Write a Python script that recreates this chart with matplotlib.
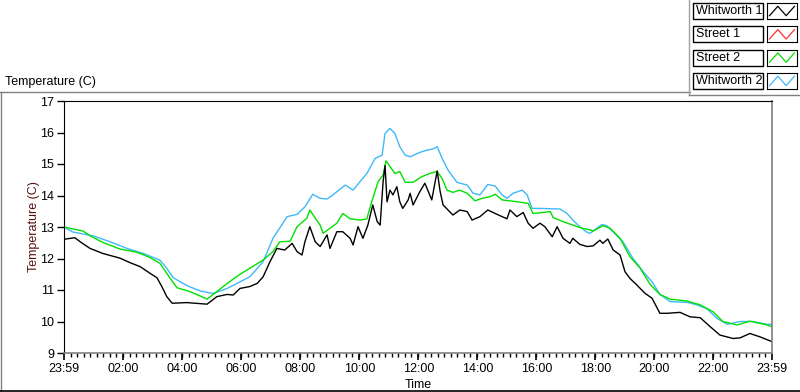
import numpy as np
import matplotlib
matplotlib.use('Agg')
import matplotlib.pyplot as plt
from matplotlib.lines import Line2D
from matplotlib.patches import Rectangle

plt.rcParams['font.family'] = ['Liberation Sans', 'DejaVu Sans']

# minutes after the 23:59 start, and temperatures (C)
whit1_t = [0, 22, 33, 53, 79, 114, 134, 155, 175, 189, 199, 209, 220, 250, 291, 311, 332, 344, 358,
           378, 393, 405, 419, 433, 449, 464, 474, 484, 490, 500, 511, 521, 535, 541, 555, 567, 582,
           588, 598, 608, 618, 628, 637, 643, 649, 653, 657, 663, 669, 677, 683, 689, 700,
           704, 710, 724, 734, 748, 759, 765, 771, 781, 791, 805, 820, 830, 846, 862, 881, 901, 907,
           921, 934, 944, 954, 968, 978, 993, 1003, 1015, 1029, 1035, 1049, 1064,
           1076, 1090, 1096, 1106, 1117, 1131, 1141, 1151, 1165, 1182, 1196, 1212, 1226, 1253, 1273,
           1294, 1314, 1334, 1361, 1375, 1395, 1416, 1440]
whit1_v = [12.61, 12.66, 12.53, 12.32, 12.16, 12.01, 11.87, 11.74, 11.53, 11.39, 11.11, 10.79, 10.58, 10.60, 10.55, 10.79, 10.86, 10.84, 11.05,
           11.11, 11.21, 11.42, 11.90, 12.32, 12.27, 12.48, 12.22, 12.11, 12.53, 13.01, 12.53, 12.38, 12.75, 12.32, 12.85, 12.85, 12.64,
           12.43, 13.01, 12.64, 13.06, 13.70, 13.17, 13.06, 14.44, 14.95, 13.80, 14.17, 14.02, 14.28, 13.80, 13.59, 13.86,
           14.07, 13.70, 14.13, 14.39, 13.86, 14.78, 14.13, 13.70, 13.54, 13.38, 13.54, 13.49, 13.22, 13.33, 13.54, 13.40, 13.26, 13.54,
           13.33, 13.46, 13.12, 12.96, 13.12, 13.01, 12.69, 13.01, 12.64, 12.48, 12.64, 12.45, 12.38,
           12.40, 12.58, 12.48, 12.62, 12.27, 12.11, 11.58, 11.37, 11.16, 10.89, 10.74, 10.26, 10.26, 10.29, 10.15,
           10.12, 9.84, 9.57, 9.46, 9.48, 9.62, 9.51, 9.36]

street1_t = []
street1_v = []

street2_t = [0, 39, 53, 79, 114, 148, 175, 195, 216, 230, 256, 277, 291, 311, 332, 358,
             378, 405, 425, 439, 460, 474, 494, 500, 511, 521, 527, 541, 555, 567, 582, 602, 616, 622, 628,
             639, 649, 655, 663, 673, 683, 694, 704,
             710, 728, 744, 759, 769, 779, 791, 805, 820, 836, 850, 866, 877, 891, 907, 927, 944, 954, 974,
             989, 995, 1015, 1035, 1054, 1070,
             1076, 1096, 1111, 1131, 1151, 1172, 1192, 1212, 1233, 1267, 1294, 1320, 1340, 1369, 1395, 1430, 1440]
street2_v = [13.0, 12.87, 12.72, 12.51, 12.30, 12.20, 12.03, 11.85, 11.37, 11.07, 10.95, 10.81, 10.71, 10.95, 11.21, 11.50,
             11.69, 11.95, 12.22, 12.53, 12.55, 13.01, 13.28, 13.54, 13.28, 13.06, 12.80, 12.96, 13.12, 13.43, 13.26, 13.22, 13.26, 13.59, 13.91,
             14.44, 14.65, 15.10, 14.92, 14.70, 14.76, 14.42, 14.42,
             14.42, 14.60, 14.70, 14.76, 14.54, 14.17, 14.10, 14.17, 14.07, 13.83, 13.91, 13.96, 14.04, 13.86, 13.83, 13.79, 13.75, 13.43, 13.46,
             13.49, 13.30, 13.17, 13.06, 12.96, 12.91,
             12.87, 13.04, 12.96, 12.64, 12.06, 11.69, 11.18, 10.86, 10.71, 10.65, 10.53, 10.31, 10.0, 9.89, 10.01, 9.89, 9.83]

whit2_t = [0, 18, 59, 94, 128, 161, 195, 209, 222, 250, 277, 303, 332, 358,
           378, 405, 425, 454, 474, 490, 506, 521, 535, 547, 572, 588, 602, 616, 633, 647, 653, 663, 673, 683, 694, 704,
           724, 738, 751, 759, 769, 781, 799, 820, 832, 846, 862, 877, 891, 901, 913, 932, 942, 952, 968, 1009, 1023, 1035, 1049, 1064,
           1070, 1094, 1104, 1117, 1137, 1157, 1178, 1196, 1212, 1233, 1267, 1287, 1308, 1328, 1349, 1375, 1401, 1430, 1440]
whit2_v = [13.0, 12.84, 12.72, 12.53, 12.32, 12.16, 11.95, 11.69, 11.39, 11.14, 10.97, 10.89, 11.05, 11.26,
           11.42, 11.90, 12.64, 13.33, 13.40, 13.64, 14.04, 13.91, 13.89, 14.02, 14.33, 14.17, 14.44, 14.70, 15.18, 15.28, 15.97, 16.13, 15.97, 15.55, 15.28, 15.23,
           15.37, 15.44, 15.48, 15.55, 15.18, 14.81, 14.42, 14.33, 14.07, 14.02, 14.35, 14.30, 14.02, 13.91, 14.07, 14.17, 14.02, 13.59, 13.59, 13.57, 13.43, 13.22, 13.01, 12.83,
           12.80, 13.08, 13.04, 12.84, 12.53, 12.01, 11.58, 11.26, 10.86, 10.63, 10.61, 10.53, 10.40, 10.10, 9.91, 10.0, 10.0, 9.91, 9.91]

names  = ['Whitworth 1', 'Street 1', 'Street 2', 'Whitworth 2']
colors = ['#000000', '#ff3030', '#00e000', '#40b8f8']

tick_pos    = [0, 121, 241, 361, 481, 601, 721, 841, 961, 1081, 1201, 1321, 1440]
tick_labels = ['23:59', '02:00', '04:00', '06:00', '08:00', '10:00', '12:00', '14:00',
               '16:00', '18:00', '20:00', '22:00', '23:59']

W, H = 800, 392
fig = plt.figure(figsize=(W/100, H/100), dpi=100)
fig.patch.set_facecolor('white')

def fx(px):
	return px / W

def fy(py):
	return 1 - py / H

# plot area
ax = fig.add_axes([fx(64), fy(353), fx(772) - fx(64), fy(101) - fy(353)])
series = [(whit1_t, whit1_v), (street1_t, street1_v), (street2_t, street2_v), (whit2_t, whit2_v)]
order = [1, 3, 2, 0]
for i in order :
	t, v = series[i]
	ax.plot(t, v, color=colors[i], lw=1.0)

ax.set_xlim(0, 1440)
ax.set_ylim(9, 17)
ax.set_yticks(range(9, 18))
ax.set_xticks(tick_pos)
ax.set_xticklabels(tick_labels)
ax.set_xticks(np.linspace(0, 1440, 109), minor=True)
ax.tick_params(axis='y', direction='out', length=5, width=1, labelsize=9, pad=2)
ax.tick_params(axis='x', which='major', direction='out', length=5, width=1.2, labelsize=9, pad=2)
ax.tick_params(axis='x', which='minor', direction='out', length=3, width=1)
for s in ['top', 'left'] :
	ax.spines[s].set_color('black')
for s in ['right', 'bottom'] :
	ax.spines[s].set_color('#808080')
	ax.spines[s].set_linewidth(1.2)
ax.set_ylabel('Temperature (C)', color='#5a1010', fontsize=9, labelpad=0)
ax.set_xlabel('Time', fontsize=9, labelpad=3)

# panel caption and frame
fig.text(fx(5), fy(82), 'Temperature (C)', fontsize=9, va='center', ha='left')
fig.add_artist(Line2D([0, fx(690)], [fy(92), fy(92)], color='#808080', lw=1))
fig.add_artist(Line2D([fx(0.5), fx(0.5)], [fy(92), fy(391)], color='#808080', lw=1))
fig.add_artist(Line2D([0, 1], [fy(391), fy(391)], color='black', lw=1.2))
fig.add_artist(Line2D([fx(689), fx(689)], [fy(0), fy(95)], color='#a0a0a0', lw=1))
fig.add_artist(Line2D([fx(689), 1], [fy(95), fy(95)], color='#808080', lw=1))

# legend boxes
for k, name in enumerate(names) :
	top = 3 + k * 23.3
	fig.add_artist(Rectangle((fx(693), fy(top + 16)), fx(70), 16 / H, fill=False, ec='black', lw=1))
	fig.text(fx(696), fy(top + 8), name, fontsize=9, va='center', ha='left')
	sw = fig.add_axes([fx(767), fy(top + 16), fx(30), 16 / H])
	sw.plot([0, 1, 2, 3], [0, 1, 0, 1], color=colors[k], lw=0.9)
	sw.set_xlim(-0.3, 3.3)
	sw.set_ylim(-0.35, 1.35)
	sw.set_xticks([])
	sw.set_yticks([])
	for s in sw.spines.values() :
		s.set_color('black')

fig.savefig('out.png', dpi=100, facecolor='white')
